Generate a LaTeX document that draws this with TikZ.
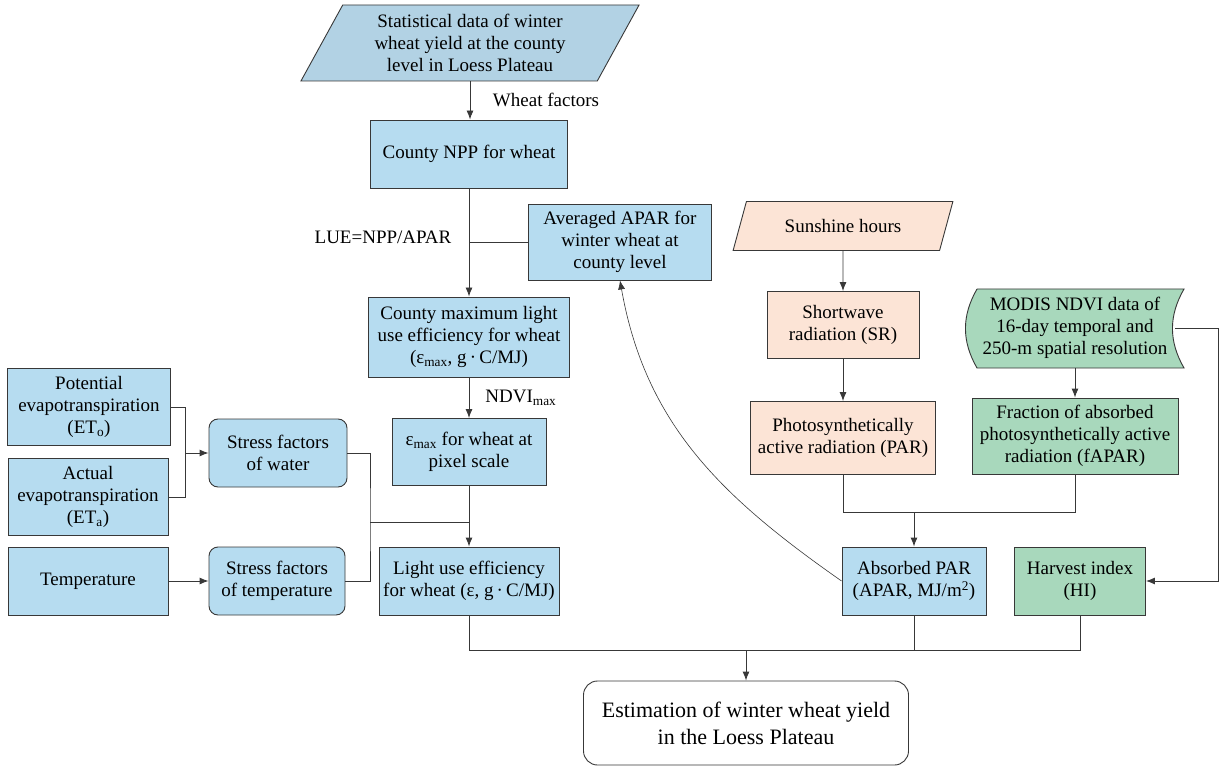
\documentclass[tikz,border=0pt]{standalone}
\usepackage{fontspec}
\setmainfont{Liberation Serif}
\usetikzlibrary{arrows.meta,shapes.geometric}
\definecolor{statfill}{RGB}{178,210,228}
\definecolor{bluefill}{RGB}{182,220,240}
\definecolor{peachfill}{RGB}{252,228,214}
\definecolor{greenfill}{RGB}{168,216,188}
\definecolor{edgecol}{RGB}{56,56,56}
\begin{document}
\begin{tikzpicture}[x=1pt,y=1pt,
  font=\fontsize{19}{22}\selectfont,
  line width=0.9pt, draw=edgecol,
  arr/.style={-{Latex[length=9pt,width=7pt]}},
  blk/.style={draw=edgecol, fill=bluefill, align=center, inner sep=2pt},
  soft/.style={blk, rounded corners=9pt},
  peach/.style={blk, fill=peachfill},
  green/.style={blk, fill=greenfill},
  para/.style={trapezium, trapezium left angle=62, trapezium right angle=118,
    trapezium stretches=true, draw=edgecol, align=center, inner sep=1pt}]
\useasboundingbox (0,0) rectangle (1221,-767);
% left column
\node[para, fill=statfill, minimum width=339, minimum height=76] (stat) at (470,-43)
  {Statistical data of winter\\wheat yield at the county\\level in Loess Plateau};
\node[blk, minimum width=197, minimum height=68] (npp) at (469,-154) {County NPP for wheat};
\node[blk, minimum width=183, minimum height=76] (avg) at (620,-242)
  {Averaged APAR for\\winter wheat at\\county level};
\node[blk, minimum width=201, minimum height=80] (cmax) at (469,-337)
  {County maximum light\\use efficiency for wheat\\(ε\textsubscript{max}, g\,·\,C/MJ)};
\node[blk, minimum width=154, minimum height=67] (emax) at (469,-452)
  {ε\textsubscript{max} for wheat at\\pixel scale};
\node[blk, minimum width=180, minimum height=68] (lue) at (469,-581)
  {Light use efficiency\\for wheat (ε, g\,·\,C/MJ)};
\node[blk, minimum width=163, minimum height=77] (pet) at (89,-407)
  {Potential\\evapotranspiration\\(ET\textsubscript{o})};
\node[blk, minimum width=160, minimum height=77] (aet) at (88,-497)
  {Actual\\evapotranspiration\\(ET\textsubscript{a})};
\node[blk, minimum width=160, minimum height=68] (temp) at (88,-581) {Temperature};
\node[soft, minimum width=138, minimum height=68] (sfw) at (278,-453)
  {Stress factors\\of water};
\node[soft, minimum width=136, minimum height=68] (sft) at (277,-581)
  {Stress factors\\of temperature};
% right part
\node[para, fill=peachfill, minimum width=220, minimum height=49] (sun) at (843,-226)
  {Sunshine hours};
\node[peach, minimum width=152, minimum height=67] (sr) at (843,-325)
  {Shortwave\\radiation (SR)};
\node[peach, minimum width=185, minimum height=73] (par) at (843,-438)
  {Photosynthetically\\active radiation (PAR)};
\filldraw[fill=greenfill, draw=edgecol] (977,-289) -- (1184,-289)
  to[out=-120,in=120] (1184,-368) -- (977,-368)
  to[out=120,in=-120] (977,-289);
\node[align=center, minimum width=200, minimum height=79, inner sep=0pt] (modis) at (1075,-328)
  {MODIS NDVI data of\\16-day temporal and\\250-m spatial resolution};
\node[green, minimum width=206, minimum height=76] (fapar) at (1075,-436)
  {Fraction of absorbed\\photosynthetically active\\radiation (fAPAR)};
\node[blk, minimum width=144, minimum height=68] (apar) at (914,-581)
  {Absorbed PAR\\(APAR, MJ/m\textsuperscript{2})};
\node[green, minimum width=131, minimum height=68] (hi) at (1080,-581)
  {Harvest index\\(HI)};
\node[soft, fill=white, rounded corners=14pt, minimum width=325, minimum height=84,
  font=\fontsize{22}{27}\selectfont] (est) at (746,-723)
  {Estimation of winter wheat yield\\in the Loess Plateau};
% labels
\node (wf) at (546,-100) {Wheat factors};
\node (lueq) at (383,-237) {LUE=NPP/APAR};
\node[anchor=west, inner sep=0pt] (ndvi) at (485,-398) {NDVI\textsubscript{max}};
% junctions
\coordinate (jw) at (185,-453);
\coordinate (js) at (370,-522);
\coordinate (jp) at (914,-512);
\coordinate (jb) at (746,-650);
% connectors
\draw[arr] (stat.south) -- (stat.south |- npp.north);
\draw[arr] (npp.south) -- (cmax.north);
\draw (avg.west) -- (avg.west -| npp.south);
\draw[arr] (cmax.south) -- (emax.north);
\draw[arr] (emax.south) -- (lue.north);
\draw (pet.east) -| (jw);
\draw (aet.east) -| (jw);
\draw[arr] (jw) -- (sfw.west);
\draw[arr] (temp.east) -- (sft.west);
\draw (sfw.east) -| (js) |- (sft.east);
\draw (js) -- (js -| lue.north);
\draw[arr] (sun.south) -- (sr.north);
\draw[arr] (sr.south) -- (par.north);
\draw[arr] (modis.south) -- (fapar.north);
\draw (par.south) |- (jp);
\draw (fapar.south) |- (jp);
\draw[arr] (jp) -- (apar.north);
\draw[arr] (modis.east) -- ++(43,0) |- (hi.east);
\draw[arr, line width=0.6pt] (apar.west) to[out=145,in=-80] (avg.south);
\draw (lue.south) -- (lue.south |- jb) -- (hi.south |- jb) -- (hi.south);
\draw (apar.south) -- (apar.south |- jb);
\draw[arr] (jb) -- (est.north);
\end{tikzpicture}
\end{document}
